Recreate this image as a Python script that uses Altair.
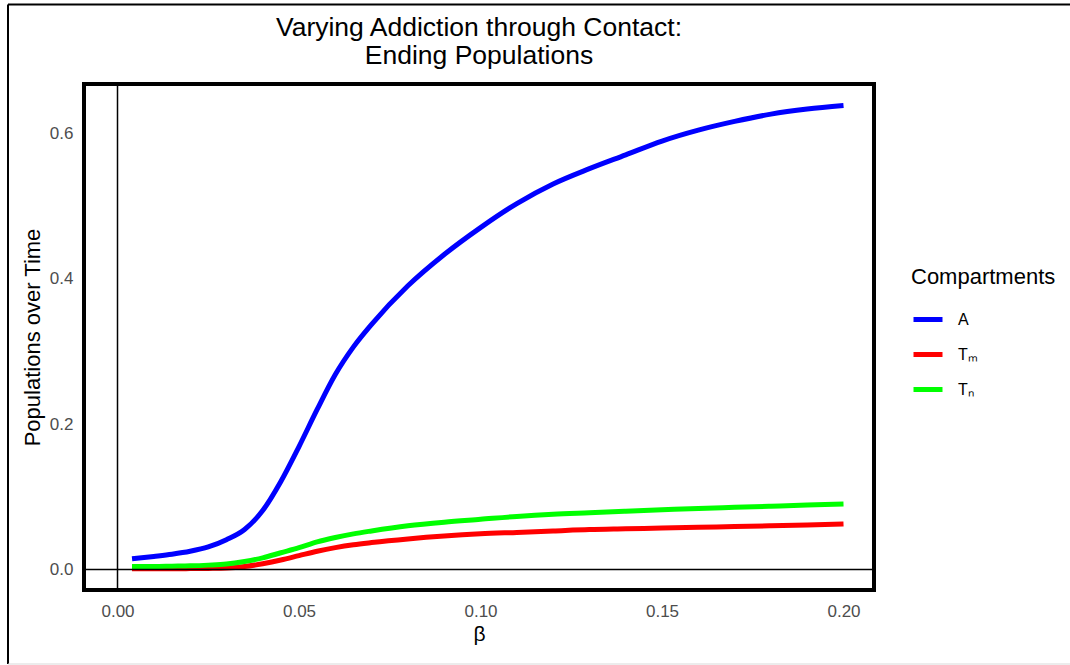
import altair as alt
import pandas as pd

beta = [0.004, 0.010, 0.015, 0.020, 0.025, 0.030, 0.035, 0.040, 0.045, 0.050,
        0.055, 0.060, 0.065, 0.070, 0.080, 0.090, 0.100, 0.110, 0.120, 0.130,
        0.140, 0.150, 0.160, 0.170, 0.180, 0.190, 0.200]

addicted = [0.0147, 0.018, 0.021, 0.025, 0.031, 0.041, 0.055, 0.081, 0.121, 0.169,
            0.220, 0.268, 0.306, 0.337, 0.390, 0.433, 0.470, 0.503, 0.530, 0.551,
            0.570, 0.589, 0.604, 0.616, 0.626, 0.633, 0.638]

treat_m = [0.001, 0.001, 0.001, 0.0012, 0.0015, 0.002, 0.004, 0.008, 0.013, 0.019,
           0.025, 0.030, 0.034, 0.037, 0.042, 0.046, 0.049, 0.051, 0.053, 0.055,
           0.056, 0.057, 0.058, 0.059, 0.060, 0.061, 0.0625]

treat_n = [0.004, 0.004, 0.0045, 0.005, 0.006, 0.0075, 0.011, 0.016, 0.023, 0.030,
           0.038, 0.044, 0.049, 0.053, 0.060, 0.065, 0.069, 0.073, 0.076, 0.078,
           0.080, 0.082, 0.084, 0.0855, 0.087, 0.0885, 0.090]

# "A" carries a leading en space, as the reference label sits further right
series_names = ["\u2002A", "Tₘ", "Tₙ"]
series_colors = ["#0000FF", "#FF0000", "#00FF00"]
x_ticks = [0.0, 0.05, 0.10, 0.15, 0.20]
y_ticks = [0.0, 0.2, 0.4, 0.6]
title_lines = ["Varying Addiction through Contact:", "Ending Populations"]

rows = []
for name, vals in zip(series_names, [addicted, treat_m, treat_n]):
    for b, v in zip(beta, vals):
        rows.append({"beta": b, "value": v, "compartment": name})
df = pd.DataFrame(rows)

FONT = "Liberation Sans"
x_scale = alt.Scale(domain=[-0.00923, 0.2084], nice=False, zero=False)
y_scale = alt.Scale(domain=[-0.0282, 0.6674], nice=False, zero=False)

lines = alt.Chart(df).mark_line(strokeWidth=5, strokeCap="butt", interpolate="monotone").encode(
    x=alt.X("beta:Q", scale=x_scale,
            axis=alt.Axis(values=x_ticks, format=".2f", title="β",
                          titleFontSize=21, titleFontWeight="normal",
                          titleBaseline="middle", titleY=44, labelPadding=13)),
    y=alt.Y("value:Q", scale=y_scale,
            axis=alt.Axis(values=y_ticks, format=".1f", title="Populations over Time",
                          titleFontSize=22, titleFontWeight="normal",
                          titleBaseline="middle", titleX=-52, labelPadding=11)),
    color=alt.Color("compartment:N",
                    scale=alt.Scale(domain=series_names, range=series_colors),
                    legend=alt.Legend(title="Compartments", orient="none",
                                      legendX=827, legendY=182.5,
                                      symbolType="stroke", symbolSize=841,
                                      symbolStrokeWidth=5,
                                      titleFontSize=22, titleFontWeight="normal",
                                      titleFont=FONT, titleColor="black",
                                      titlePadding=14,
                                      labelFontSize=16, labelFont=FONT,
                                      labelColor="black", labelOffset=13,
                                      rowPadding=8, padding=0)),
    order="beta:Q",
)

zero_h = alt.Chart(alt.Data(values=[{}])).mark_rule(color="black", strokeWidth=1.5).encode(
    y=alt.datum(0, scale=y_scale)
)
zero_v = alt.Chart(alt.Data(values=[{}])).mark_rule(color="black", strokeWidth=1.5).encode(
    x=alt.datum(0, scale=x_scale)
)

title_df = pd.DataFrame({"line": title_lines, "ypos": [-56, -28]})
title_mark = alt.Chart(title_df).mark_text(
    font=FONT, fontSize=26.5, color="black", align="center", baseline="middle"
).encode(
    text="line:N",
    x=alt.value(395),
    y=alt.Y("ypos:Q", scale=None),
)

frame_top = alt.Chart(alt.Data(values=[{}])).mark_rule(color="black", strokeWidth=2).encode(
    x=alt.value(-76), x2=alt.value(990), y=alt.value(-79.5)
)
frame_left = alt.Chart(alt.Data(values=[{}])).mark_rule(color="black", strokeWidth=2).encode(
    x=alt.value(-76), y=alt.value(-79.5), y2=alt.value(580)
)
frame_bottom = alt.Chart(alt.Data(values=[{}])).mark_rule(color="#d9d9d9", strokeWidth=1).encode(
    x=alt.value(-76), x2=alt.value(990), y=alt.value(580)
)

chart = alt.layer(lines, zero_h, zero_v, title_mark, frame_top, frame_left, frame_bottom).properties(
    width=790,
    height=506,
    padding={"left": 84, "top": 84, "right": 196, "bottom": 75},
    autosize=alt.AutoSizeParams(type="none"),
    background="white",
).configure_view(
    stroke="black", strokeWidth=4
).configure_axis(
    grid=False, domain=False, ticks=False,
    labelColor="#4d4d4d", labelFont=FONT, labelFontSize=17,
    titleFont=FONT, titleColor="black",
)

chart.save("out.html", embed_options={"renderer": "svg", "actions": False})
